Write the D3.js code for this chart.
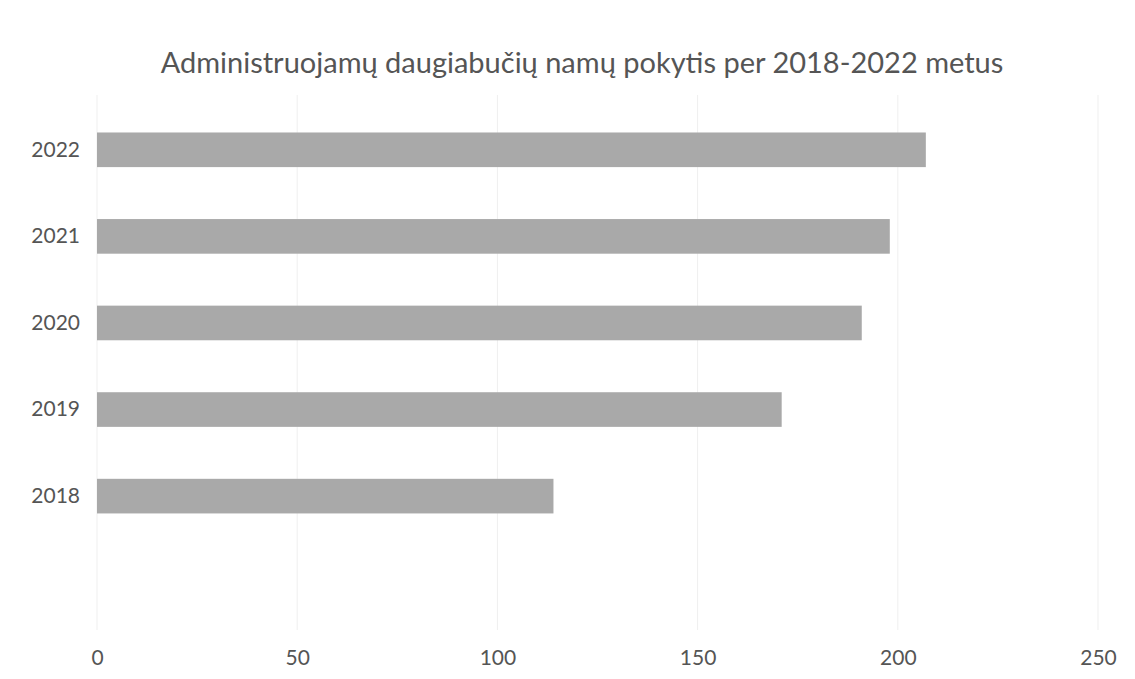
<!DOCTYPE html>
<html>
<head>
<meta charset="utf-8">
<script src="https://cdn.jsdelivr.net/npm/d3@7"></script>
<style>
  html, body { margin: 0; padding: 0; background: #fff; }
  svg { display: block; }
  text { font-family: Lato, "Open Sans", sans-serif; fill: #555; }
</style>
</head>
<body>
<svg id="chart" width="1135" height="679"></svg>
<script>
const title = "Administruojamų daugiabučių namų pokytis per 2018-2022 metus";
const categories = ["2022", "2021", "2020", "2019", "2018", ""];
const values = [207, 198, 191, 171, 114, null];
const xTicks = [0, 50, 100, 150, 200, 250];

const svg = d3.select("#chart");
const x = d3.scaleLinear().domain([0, 250]).range([97, 1098]);
const y = d3.scaleBand().domain(categories).range([106.5, 626]).paddingInner(0.6).paddingOuter(0.3);

svg.append("text")
  .attr("x", 582).attr("y", 73)
  .attr("text-anchor", "middle")
  .style("font-size", "29px")
  .text(title);

// gridlines
svg.append("g").selectAll("line").data(xTicks).join("line")
  .attr("x1", d => x(d)).attr("x2", d => x(d))
  .attr("y1", 95).attr("y2", 630)
  .attr("stroke", "#efefef").attr("stroke-width", 1);

// bars
const data = categories.map((c, i) => ({c, v: values[i]})).filter(d => d.v != null);
svg.append("g").selectAll("rect").data(data).join("rect")
  .attr("x", x(0))
  .attr("y", d => y(d.c))
  .attr("width", d => x(d.v) - x(0))
  .attr("height", y.bandwidth())
  .attr("fill", "#a9a9a9");

// y axis labels
const yAxis = d3.axisLeft(y).tickSize(0).tickPadding(0);
const gy = svg.append("g").attr("transform", "translate(80,0)").call(yAxis);
gy.select(".domain").remove();
gy.selectAll("text").style("font-size", "21px").attr("fill", "#555").style("font-family", "Lato, sans-serif");

// x axis labels
const xAxis = d3.axisBottom(x).tickValues(xTicks).tickSize(0).tickPadding(0);
const gx = svg.append("g").attr("transform", "translate(0,650)").call(xAxis);
gx.select(".domain").remove();
gx.selectAll("text").style("font-size", "21px").attr("fill", "#555").style("font-family", "Lato, sans-serif");
</script>
</body>
</html>
